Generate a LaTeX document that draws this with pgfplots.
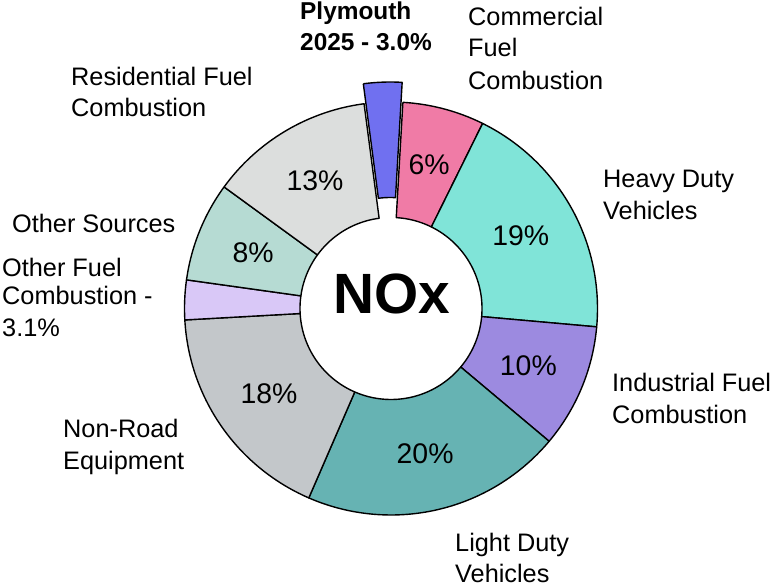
\documentclass[border=0pt]{standalone}
\usepackage{fontspec}
\setmainfont{Liberation Sans}
\usepackage{pgfplots}
\usepackage{pgfplotstable}
\pgfplotsset{compat=1.18}

\definecolor{c0}{RGB}{240,123,166}
\definecolor{c1}{RGB}{128,228,216}
\definecolor{c2}{RGB}{156,138,224}
\definecolor{c3}{RGB}{102,179,179}
\definecolor{c4}{RGB}{195,199,202}
\definecolor{c5}{RGB}{217,200,247}
\definecolor{c6}{RGB}{182,219,211}
\definecolor{c7}{RGB}{220,222,221}
\definecolor{c8}{RGB}{112,112,240}

\pgfplotstableread{
name pct
Commercial 6.4
HeavyDuty 19.1
Industrial 9.7
LightDuty 20.4
NonRoad 17.6
OtherFuel 3.1
OtherSources 7.8
Residential 12.9
Plymouth 3.0
}\datatable

\newcommand\pctfont{\fontsize{28.5}{34}\selectfont}
\newcommand\labfont{\fontsize{25.4}{30}\selectfont}

\begin{document}
\begin{tikzpicture}
\begin{axis}[scale only axis, width=778bp, height=586bp,
  xmin=0, xmax=778, ymin=0, ymax=586, hide axis, clip=false]
\addplot[draw=none] coordinates {(0,0) (778,586)};
\def\cx{391}\def\cy{277.5}\def\Ro{206.5}\def\Ri{91}
\def\cum{0}
\pgfplotsforeachungrouped \i in {0,...,8}{%
  \pgfplotstablegetelem{\i}{pct}\of\datatable
  \let\pct\pgfplotsretval
  \pgfmathsetmacro\a{3.3+3.6*\cum}%
  \pgfmathsetmacro\b{3.3+3.6*(\cum+\pct)}%
  \pgfmathsetmacro\cum{\cum+\pct}%
  \pgfmathsetmacro\m{(\a+\b)/2}%
  \pgfmathsetmacro\ex{\i==8 ? 20 : 0}%
  \pgfmathsetmacro\ox{\cx+\ex*sin(\m)}%
  \pgfmathsetmacro\oy{\cy+\ex*cos(\m)}%
  \edef\temp{\noexpand\addplot[draw=black, line width=1.4pt, line join=round, fill=c\i,
     samples at={0,1,...,60,100,101,...,160,200}]
   ({\ox+ifthenelse(x<61||x>170,\Ro,\Ri)*sin(ifthenelse(x<61,\a+(\b-\a)*x/60,ifthenelse(x<170,\b-(\b-\a)*(x-100)/60,\a)))},
    {\oy+ifthenelse(x<61||x>170,\Ro,\Ri)*cos(ifthenelse(x<61,\a+(\b-\a)*x/60,ifthenelse(x<170,\b-(\b-\a)*(x-100)/60,\a)))});}%
  \temp
  \ifnum\i=5 \else\ifnum\i=8 \else
    \pgfmathsetmacro\lx{\cx+148.75*sin(\m)}%
    \pgfmathsetmacro\ly{\cy+148.75*cos(\m)}%
    \pgfmathtruncatemacro\lab{round(\pct)}%
    \edef\temp{\noexpand\node[font=\noexpand\pctfont, inner sep=0pt] at (axis cs:\lx,\ly) {\lab\noexpand\%};}%
    \temp
  \fi\fi
}
\node[font=\fontsize{57}{66}\selectfont\bfseries, inner sep=0pt] at (axis cs:392,292) {NOx};

\begin{scope}[every node/.style={anchor=base west, inner sep=0pt, font=\labfont}]
\node[font=\fontsize{24.5}{30}\selectfont\bfseries] at (axis cs:300,566) {Plymouth};
\node[font=\fontsize{24.5}{30}\selectfont\bfseries] at (axis cs:300,535) {2025 - 3.0\%};
\node at (axis cs:468,560) {Commercial};
\node at (axis cs:468,529) {Fuel};
\node at (axis cs:468,496) {Combustion};
\node at (axis cs:603,398) {Heavy Duty};
\node at (axis cs:603,366) {Vehicles};
\node at (axis cs:612,194) {Industrial Fuel};
\node at (axis cs:612,162) {Combustion};
\node at (axis cs:455,34) {Light Duty};
\node at (axis cs:455,4) {Vehicles};
\node at (axis cs:63,148) {Non-Road};
\node at (axis cs:63,116) {Equipment};
\node at (axis cs:71,500) {Residential Fuel};
\node at (axis cs:71,469) {Combustion};
\node at (axis cs:12,353) {Other Sources};
\node at (axis cs:2,309) {Other Fuel};
\node at (axis cs:2,281) {Combustion -};
\node at (axis cs:2,249) {3.1\%};
\end{scope}
\end{axis}
\end{tikzpicture}
\end{document}
